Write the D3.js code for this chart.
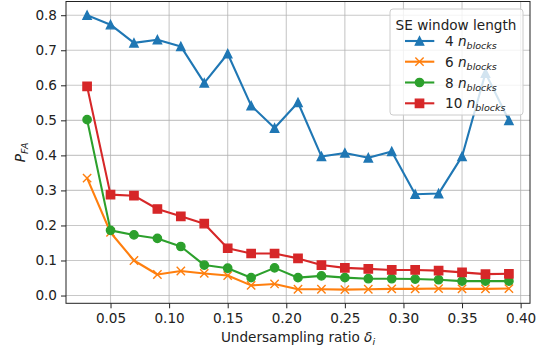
<!DOCTYPE html>
<html>
<head>
<meta charset="utf-8">
<script src="https://cdn.jsdelivr.net/npm/d3@7"></script>
<style>
  html, body { margin: 0; padding: 0; background: #fff; }
  svg { display: block; }
  text { font-family: "DejaVu Sans", sans-serif; }
</style>
</head>
<body>
<svg id="chart" width="544" height="352"></svg>
<script>
const ratios = [0.03, 0.05, 0.07, 0.09, 0.11, 0.13, 0.15, 0.17, 0.19, 0.21,
                0.23, 0.25, 0.27, 0.29, 0.31, 0.33, 0.35, 0.37, 0.39];
const win4  = [0.800, 0.773, 0.721, 0.730, 0.711, 0.607, 0.690, 0.542, 0.478, 0.551,
               0.397, 0.407, 0.393, 0.411, 0.289, 0.291, 0.397, 0.635, 0.500];
const win6  = [0.335, 0.180, 0.100, 0.060, 0.070, 0.063, 0.057, 0.029, 0.033, 0.018,
               0.018, 0.017, 0.018, 0.019, 0.019, 0.020, 0.019, 0.019, 0.020];
const win8  = [0.502, 0.186, 0.173, 0.163, 0.140, 0.087, 0.078, 0.051, 0.079, 0.051,
               0.056, 0.051, 0.048, 0.048, 0.047, 0.045, 0.041, 0.041, 0.041];
const win10 = [0.597, 0.288, 0.285, 0.247, 0.226, 0.205, 0.135, 0.120, 0.120, 0.106,
               0.087, 0.079, 0.076, 0.073, 0.073, 0.071, 0.066, 0.061, 0.062];
const seriesNames = ["4", "6", "8", "10"];
const seriesColors = ["#1f77b4", "#ff7f0e", "#2ca02c", "#d62728"];
const seriesMarkers = ["triangle", "x", "circle", "square"];
const xTicks = [0.05, 0.10, 0.15, 0.20, 0.25, 0.30, 0.35, 0.40];
const yTicks = [0.0, 0.1, 0.2, 0.3, 0.4, 0.5, 0.6, 0.7, 0.8];

const seriesValues = [win4, win6, win8, win10];

const svg = d3.select("#chart");
const L = 66, R = 530, T = 1.5, B = 303.3;
const FS = 13.6;

const allVals = seriesValues.flat();
const yMin = d3.min(allVals), yMax = d3.max(allVals);
const yPad = (yMax - yMin) * 0.05;
const xMin = d3.min(ratios), xMax = d3.max(ratios);
const xPad = (xMax - xMin) * 0.05;

const x = d3.scaleLinear().domain([xMin - xPad, xMax + xPad]).range([L, R]);
const y = d3.scaleLinear().domain([yMin - yPad, yMax + yPad]).range([B, T]);

// grid
const grid = svg.append("g");
grid.selectAll("line.gx").data(xTicks).join("line")
  .attr("x1", d => x(d)).attr("x2", d => x(d)).attr("y1", T).attr("y2", B)
  .attr("stroke", "#b0b0b0").attr("stroke-opacity", 0.7).attr("stroke-width", 1.1);
grid.selectAll("line.gy").data(yTicks).join("line")
  .attr("y1", d => y(d)).attr("y2", d => y(d)).attr("x1", L).attr("x2", R)
  .attr("stroke", "#b0b0b0").attr("stroke-opacity", 0.7).attr("stroke-width", 1.1);

// axes
const xAxis = d3.axisBottom(x).tickValues(xTicks).tickFormat(d3.format(".2f")).tickSize(5).tickPadding(5);
const yAxis = d3.axisLeft(y).tickValues(yTicks).tickFormat(d3.format(".1f")).tickSize(5).tickPadding(4);

const gx = svg.append("g").attr("transform", `translate(0,${B})`).call(xAxis);
const gy = svg.append("g").attr("transform", `translate(${L},0)`).call(yAxis);
[gx, gy].forEach(g => {
  g.select(".domain").remove();
  g.selectAll(".tick line").attr("stroke", "#222").attr("stroke-width", 1);
  g.selectAll(".tick text").attr("fill", "#222").attr("font-size", FS)
    .attr("font-family", "DejaVu Sans, sans-serif");
});

// series
function markerPath(type, s) {
  const h = s / 2;
  if (type === "triangle") return `M0,${-h}L${h},${h}L${-h},${h}Z`;
  if (type === "square") return `M${-h},${-h}H${h}V${h}H${-h}Z`;
  if (type === "x") return `M${-h},${-h}L${h},${h}M${-h},${h}L${h},${-h}`;
  return null;
}
const ms = 8.3;
const plot = svg.append("g");
seriesValues.forEach((vals, i) => {
  const col = seriesColors[i];
  const pts = ratios.map((r, k) => [r, vals[k]]);
  const g = plot.append("g");
  g.append("path")
    .attr("d", d3.line().x(d => x(d[0])).y(d => y(d[1]))(pts))
    .attr("fill", "none").attr("stroke", col).attr("stroke-width", 2.1)
    .attr("stroke-linejoin", "round").attr("stroke-linecap", "square");
  const m = seriesMarkers[i];
  pts.forEach(d => {
    const tx = `translate(${x(d[0])},${y(d[1])})`;
    if (m === "circle") {
      g.append("circle").attr("cx", x(d[0])).attr("cy", y(d[1])).attr("r", ms / 2)
        .attr("fill", col).attr("stroke", col).attr("stroke-width", 1.4);
    } else if (m === "x") {
      g.append("path").attr("transform", tx).attr("d", markerPath(m, ms))
        .attr("fill", "none").attr("stroke", col).attr("stroke-width", 1.4);
    } else {
      g.append("path").attr("transform", tx).attr("d", markerPath(m, ms))
        .attr("fill", col).attr("stroke", col).attr("stroke-width", 1.4)
        .attr("stroke-linejoin", "miter");
    }
  });
});

// spines
svg.append("rect").attr("x", L).attr("y", T).attr("width", R - L).attr("height", B - T)
  .attr("fill", "none").attr("stroke", "#222").attr("stroke-width", 1);

// axis labels
const xl = svg.append("text").attr("x", (L + R) / 2).attr("y", 342)
  .attr("text-anchor", "middle").attr("font-size", FS).attr("fill", "#222");
xl.append("tspan").text("Undersampling ratio ");
xl.append("tspan").attr("font-style", "italic").text("δ");
xl.append("tspan").attr("font-style", "italic").attr("font-size", FS * 0.7).attr("dy", 3).text("i");

const yl = svg.append("text").attr("transform", `translate(25,${(T + B) / 2}) rotate(-90)`)
  .attr("text-anchor", "middle").attr("font-size", FS).attr("fill", "#222");
yl.append("tspan").attr("font-style", "italic").text("P");
yl.append("tspan").attr("font-style", "italic").attr("font-size", FS * 0.7).attr("dy", 3).text("FA");

// legend
const lg = svg.append("g");
lg.append("rect").attr("x", 390).attr("y", 9).attr("width", 133).attr("height", 106)
  .attr("rx", 3).attr("fill", "#fff").attr("fill-opacity", 0.8)
  .attr("stroke", "#cccccc").attr("stroke-width", 1);
lg.append("text").attr("x", 456).attr("y", 30).attr("text-anchor", "middle")
  .attr("font-size", FS).attr("fill", "#222").text("SE window length");
const rowY = [41, 61.7, 82.5, 103.3];
seriesNames.forEach((name, i) => {
  const col = seriesColors[i];
  const ry = rowY[i];
  lg.append("line").attr("x1", 405).attr("x2", 434.3).attr("y1", ry).attr("y2", ry)
    .attr("stroke", col).attr("stroke-width", 2.1);
  const m = seriesMarkers[i];
  if (m === "circle") {
    lg.append("circle").attr("cx", 419.5).attr("cy", ry).attr("r", ms / 2)
      .attr("fill", col).attr("stroke", col).attr("stroke-width", 1.4);
  } else {
    lg.append("path").attr("transform", `translate(419.5,${ry})`).attr("d", markerPath(m, ms))
      .attr("fill", m === "x" ? "none" : col).attr("stroke", col).attr("stroke-width", 1.4);
  }
  const t = lg.append("text").attr("x", 445).attr("y", ry + 5)
    .attr("font-size", FS).attr("fill", "#222");
  t.append("tspan").text(name + " ");
  t.append("tspan").attr("font-style", "italic").text("n");
  t.append("tspan").attr("font-style", "italic").attr("font-size", FS * 0.7).attr("dy", 3).text("blocks");
});
</script>
</body>
</html>
